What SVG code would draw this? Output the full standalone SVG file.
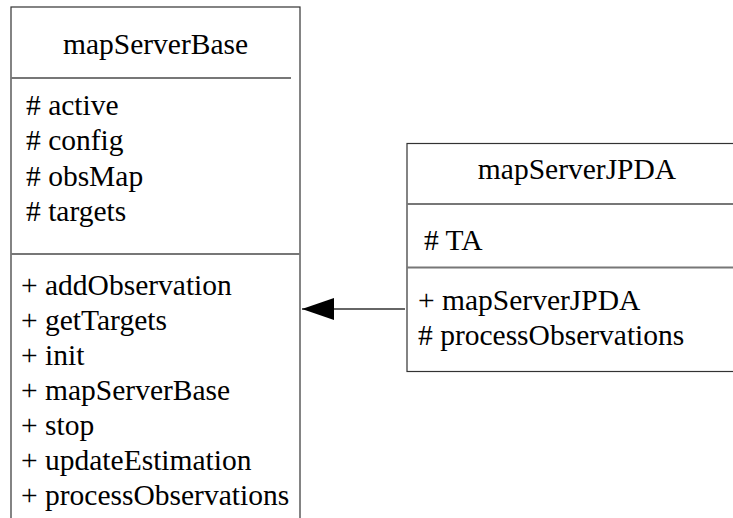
<svg xmlns="http://www.w3.org/2000/svg" width="733" height="518" viewBox="0 0 733 518">
<defs>
<style>
.box{fill:#fff;stroke:#333;stroke-width:1.2}
.sep{stroke:#777;stroke-width:2}
text{font-family:"Liberation Serif","Times New Roman",serif;font-size:29.5px;fill:#000}
.c{text-anchor:middle}
</style>
<marker id="ah" markerWidth="32" markerHeight="22" refX="32" refY="11" markerUnits="userSpaceOnUse" orient="auto">
<path d="M0,0 L32,11 L0,22 Z" fill="#000"/>
</marker>
</defs>
<rect width="733" height="518" fill="#fff"/>
<g id="connectors">
<line x1="405" y1="309" x2="302" y2="309" stroke="#666" stroke-width="2" marker-end="url(#ah)"/>
</g>
<g id="mapServerBase">
<rect class="box" x="11" y="7" width="289" height="530"/>
<line class="sep" x1="11" y1="78" x2="291" y2="78"/>
<line class="sep" x1="11" y1="254" x2="300" y2="254"/>
<text class="c" x="155.5" y="54">mapServerBase</text>
<text x="26" y="115"># active</text>
<text x="26" y="150"># config</text>
<text x="26" y="186"># obsMap</text>
<text x="26" y="221"># targets</text>
<text x="21" y="295">+ addObservation</text>
<text x="21" y="330">+ getTargets</text>
<text x="21" y="365">+ init</text>
<text x="21" y="400">+ mapServerBase</text>
<text x="21" y="435">+ stop</text>
<text x="21" y="470">+ updateEstimation</text>
<text x="21" y="505">+ processObservations</text>
</g>
<g id="mapServerJPDA">
<rect class="box" x="407" y="143.5" width="340" height="228"/>
<line class="sep" x1="407" y1="204" x2="747" y2="204"/>
<line class="sep" x1="407" y1="267.5" x2="747" y2="267.5"/>
<text class="c" x="577" y="179">mapServerJPDA</text>
<text x="424" y="250"># TA</text>
<text x="418" y="310">+ mapServerJPDA</text>
<text x="418" y="345"># processObservations</text>
</g>
</svg>
